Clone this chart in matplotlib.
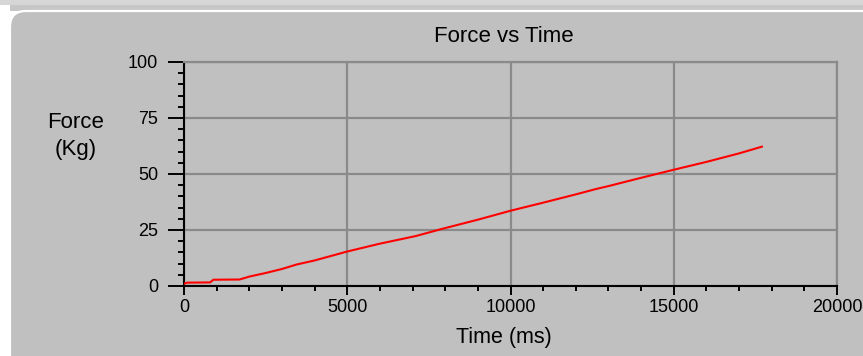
import matplotlib
matplotlib.use("Agg")
import matplotlib.pyplot as plt
from matplotlib.patches import FancyBboxPatch, Rectangle
from matplotlib.ticker import MultipleLocator

# Force measurement over time
time_ms = [0, 100, 800, 900, 1700, 2000, 2500, 3000, 3450, 4000, 5000, 6000,
           7100, 7930, 9000, 10000, 11000, 12000, 12620, 13000, 14000, 15000,
           16000, 17000, 17700]
force_kg = [1.0, 1.5, 1.6, 2.8, 2.9, 4.2, 5.8, 7.6, 9.6, 11.4, 15.4, 18.9,
            22.3, 25.6, 29.6, 33.6, 37.2, 40.9, 43.3, 44.6, 48.3, 51.9,
            55.4, 59.2, 62.2]

x_ticks = [0, 5000, 10000, 15000, 20000]
y_ticks = [0, 25, 50, 75, 100]

W, H, DPI = 863, 356, 100
FONT = "Liberation Sans"
PANEL = "#c0c0c0"
GRID = "#8a8a8a"

fig = plt.figure(figsize=(W / DPI, H / DPI), dpi=DPI, facecolor="white")

# window frame: top strip and rounded panel
def px_in(x, y):
    return x / DPI, (H - y) / DPI

fig.add_artist(Rectangle(px_in(0, 5), W / DPI, 5 / DPI, transform=fig.dpi_scale_trans,
                         facecolor="#d6d6d6", edgecolor="none", zorder=0))
fig.add_artist(Rectangle(px_in(10, 11), (W - 10) / DPI, 6 / DPI, transform=fig.dpi_scale_trans,
                         facecolor="#c6c6c6", edgecolor="none", zorder=0))
x0, y0 = px_in(10, 400)
fig.add_artist(FancyBboxPatch((x0, y0), (W + 40 - 10) / DPI, (400 - 11) / DPI,
                              boxstyle="round,pad=0,rounding_size=0.16",
                              transform=fig.dpi_scale_trans,
                              facecolor=PANEL, edgecolor="white", linewidth=1.6, zorder=0))

ax = fig.add_axes([184 / W, 1 - 286 / H, (837 - 184) / W, (286 - 62) / H])
ax.set_facecolor(PANEL)
ax.set_xlim(0, 20000)
ax.set_ylim(0, 100)

ax.plot(time_ms, force_kg, color="#ff0000", linewidth=1.5, zorder=3)

ax.set_xticks(x_ticks)
ax.set_yticks(y_ticks)
ax.xaxis.set_minor_locator(MultipleLocator(1000))
ax.yaxis.set_minor_locator(MultipleLocator(5))
ax.grid(True, which="major", color=GRID, linewidth=1.6)
ax.set_axisbelow(True)

for side in ("left", "bottom"):
    ax.spines[side].set_color("black")
    ax.spines[side].set_linewidth(1.5)
for side in ("top", "right"):
    ax.spines[side].set_color(GRID)
    ax.spines[side].set_linewidth(1.6)

ax.tick_params(axis="y", which="major", direction="out", length=11.5, width=1.4,
               pad=7, labelsize=13)
ax.tick_params(axis="y", which="minor", direction="out", length=4.3, width=1.4)
ax.tick_params(axis="x", which="major", direction="out", length=6.5, width=1.4,
               pad=3, labelsize=13)
ax.tick_params(axis="x", which="minor", direction="out", length=3.6, width=1.4)
for lab in ax.get_xticklabels() + ax.get_yticklabels():
    lab.set_fontfamily(FONT)

fig.text(504 / W, 1 - 37 / H, "Force vs Time", ha="center", va="center",
         fontsize=16, family=FONT)
fig.text(504 / W, 1 - 338 / H, "Time (ms)", ha="center", va="center",
         fontsize=15.5, family=FONT)
fig.text(76 / W, 1 - 136 / H, "Force\n(Kg)", ha="center", va="center",
         fontsize=16, family=FONT, linespacing=1.4)

fig.savefig("out.png", dpi=DPI, facecolor=fig.get_facecolor())
